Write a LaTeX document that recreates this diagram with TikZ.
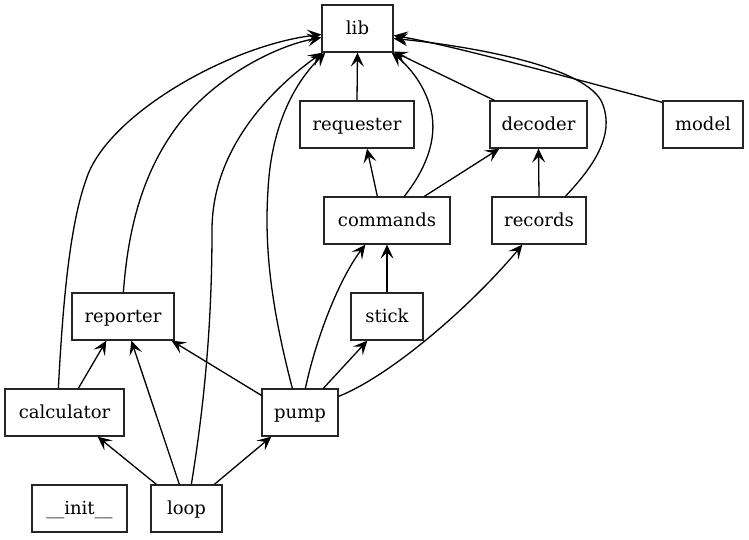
\documentclass[tikz,border=0pt]{standalone}
\usepackage{fontspec}
\setmainfont{DejaVu Serif}
\usetikzlibrary{arrows.meta}
\begin{document}
\begin{tikzpicture}[x=1pt,y=-1pt,
  box/.style={draw=black!85, line width=1.3pt, rectangle, inner sep=0pt, minimum height=47pt,
    font=\fontsize{18}{22}\selectfont, text height=14pt, text depth=3pt},
  edge/.style={line width=1.3pt, -{Stealth[length=14pt,width=13pt,inset=6pt]}}]
\useasboundingbox (0,0) rectangle (749,539);
\node[box, minimum width=71pt]  (lib)        at (357.5,28.5) {lib};
\node[box, minimum width=114pt] (requester)  at (357,124.5) {requester};
\node[box, minimum width=97pt]  (decoder)    at (538.5,124.5) {decoder};
\node[box, minimum width=80pt]  (model)      at (703,124.5) {model};
\node[box, minimum width=126pt] (commands)   at (387,220.5) {commands};
\node[box, minimum width=94pt]  (records)    at (539,220.5) {records};
\node[box, minimum width=102pt] (reporter)   at (123,316.5) {reporter};
\node[box, minimum width=72pt]  (stick)      at (387,316.5) {stick};
\node[box, minimum width=119pt] (calculator) at (64.5,412.5) {calculator};
\node[box, minimum width=76pt]  (pump)       at (300,412.5) {pump};
\node[box, minimum width=95pt]  (init)       at (79.5,508.5) {\_\_init\_\_};
\node[box, minimum width=71pt]  (loop)       at (186.5,508.5) {loop};

\draw[edge] (requester.north) -- (lib.south);
\draw[edge] ([xshift=5pt]decoder.north west) -- ([yshift=1pt]lib.south east);
\draw[edge] ([yshift=-2pt]model.north west) .. controls (560,75) and (450,45) .. ([yshift=-7pt]lib.east);
\draw[edge] ([xshift=74pt]records.north west) .. controls (595,165) and (614,135) .. (603,105)
  .. controls (590,65) and (460,45) .. ([yshift=-10pt]lib.east);
\draw[edge] ([xshift=81pt]commands.north west) .. controls (425,170) and (438,140) .. (431,110)
  .. controls (424,82) and (406,64) .. ([xshift=-2pt]lib.south east);
\draw[edge] ([xshift=54pt]commands.north west) -- ([xshift=10pt]requester.south);
\draw[edge] ([xshift=101pt]commands.north west) -- ([xshift=10pt]decoder.south west);
\draw[edge] (records.north) -- (decoder.south);
\draw[edge] (stick.north) -- (commands.south);
\draw[edge] ([xshift=44pt]pump.north west) .. controls (318,330) and (342,275) .. ([xshift=42pt]commands.south west);
\draw[edge] ([xshift=62pt]pump.north west) -- ([xshift=17pt]stick.south west);
\draw[edge] ([yshift=-8pt]pump.north east) .. controls (392,375) and (472,305) .. ([xshift=31pt]records.south west);
\draw[edge] ([yshift=-7pt]pump.north west) -- ([xshift=-3pt]reporter.south east);
\draw[edge] ([xshift=31pt]pump.north west) .. controls (272,310) and (264,250) .. (268,190)
  .. controls (271,130) and (292,85) .. ([xshift=4pt]lib.south west);
\draw[edge] ([xshift=52pt]reporter.north west) .. controls (128,230) and (142,170) .. (182,120)
  .. controls (222,72) and (280,45) .. ([yshift=-9pt]lib.west);
\draw[edge] ([xshift=54pt]calculator.north west) .. controls (62,320) and (68,230) .. (86,180)
  .. controls (106,115) and (230,45) .. ([yshift=-6pt]lib.west);
\draw[edge] ([xshift=74pt]calculator.north west) -- ([xshift=35pt]reporter.south west);
\draw[edge] ([xshift=6pt]loop.north west) -- ([xshift=-27pt]calculator.south east);
\draw[edge] ([xshift=29pt]loop.north west) -- ([xshift=60pt]reporter.south west);
\draw[edge] ([xshift=41pt]loop.north west) .. controls (205,400) and (212,320) .. (212,230)
  .. controls (212,150) and (270,90) .. ([xshift=1pt]lib.south west);
\draw[edge] ([xshift=64pt]loop.north west) -- ([xshift=10pt]pump.south west);
\end{tikzpicture}
\end{document}
